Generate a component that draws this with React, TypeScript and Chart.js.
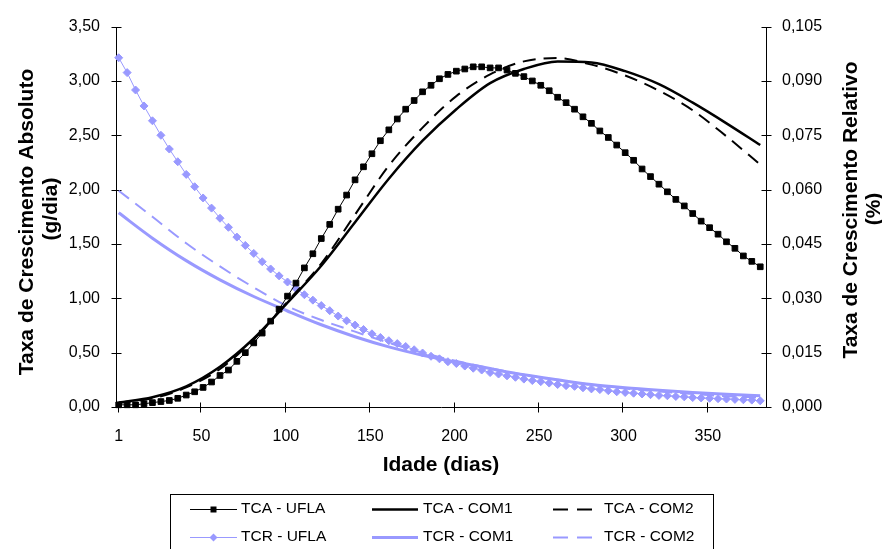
import React, { useEffect, useRef } from 'react';
import { Chart, registerables } from 'chart.js';

Chart.register(...registerables);

const UFLA_DAYS = [1, 6, 11, 16, 21, 26, 31, 36, 41, 46, 51, 56, 61, 66, 71, 76, 81, 86, 91, 96, 101, 106, 111, 116, 121, 126, 131, 136, 141, 146, 151, 156, 161, 166, 171, 176, 181, 186, 191, 196, 201, 206, 211, 216, 221, 226, 231, 236, 241, 246, 251, 256, 261, 266, 271, 276, 281, 286, 291, 296, 301, 306, 311, 316, 321, 326, 331, 336, 341, 346, 351, 356, 361, 366, 371, 376, 381];
const MODEL_DAYS = [1, 21, 41, 61, 81, 101, 121, 141, 161, 181, 201, 221, 241, 261, 281, 301, 321, 341, 361, 381];

const TCA_UFLA = [0.02, 0.02, 0.02, 0.03, 0.04, 0.05, 0.06, 0.08, 0.11, 0.14, 0.18, 0.23, 0.29, 0.34, 0.42, 0.50, 0.59, 0.68, 0.79, 0.90, 1.02, 1.14, 1.28, 1.41, 1.55, 1.68, 1.82, 1.95, 2.09, 2.21, 2.33, 2.45, 2.55, 2.65,
  2.74, 2.82, 2.90, 2.96, 3.02, 3.06, 3.09, 3.11, 3.13, 3.13, 3.12, 3.12, 3.10, 3.07, 3.04, 3.00, 2.96, 2.91, 2.85, 2.80, 2.74, 2.67, 2.61, 2.54, 2.48, 2.41, 2.34, 2.27, 2.19, 2.12, 2.05, 1.98, 1.91, 1.85, 1.78, 1.71, 1.65, 1.59, 1.52, 1.46, 1.39, 1.34, 1.29];
const TCR_UFLA = [0.0964, 0.0923, 0.0875, 0.0831, 0.0790, 0.0750, 0.0712, 0.0677, 0.0642, 0.0608, 0.0577, 0.0549, 0.0521, 0.0496, 0.0469, 0.0446, 0.0424, 0.0401, 0.0381, 0.0362, 0.0345, 0.0327, 0.0310, 0.0295, 0.0280, 0.0266, 0.0251, 0.0238, 0.0226, 0.0214, 0.0202, 0.0192, 0.0183, 0.0175,
  0.0167, 0.0158, 0.0149, 0.0140, 0.0133, 0.0125, 0.0120, 0.0113, 0.0107, 0.0102, 0.0095, 0.0091, 0.0086, 0.0082, 0.0077, 0.0073, 0.0070, 0.0066, 0.0062, 0.0059, 0.0057, 0.0053, 0.0050, 0.0048, 0.0045, 0.0042, 0.0040, 0.0038, 0.0036, 0.0034, 0.0032, 0.0031, 0.0029, 0.0028, 0.0026, 0.0025, 0.0024, 0.0023, 0.0022, 0.0021, 0.0020, 0.0019, 0.0017];
const TCA_COM1 = [0.04, 0.09, 0.19, 0.37, 0.63, 0.96, 1.30, 1.70, 2.10, 2.45, 2.74, 2.98, 3.11, 3.18, 3.17, 3.09, 2.97, 2.80, 2.61, 2.41];
const TCA_COM2 = [0.04, 0.08, 0.18, 0.35, 0.62, 0.97, 1.32, 1.77, 2.22, 2.57, 2.86, 3.06, 3.18, 3.21, 3.15, 3.05, 2.91, 2.73, 2.49, 2.23];
const TCR_COM1 = [0.0536, 0.0466, 0.0404, 0.0351, 0.0305, 0.0265, 0.0227, 0.0194, 0.0166, 0.0143, 0.0124, 0.0106, 0.0089, 0.0075, 0.0062, 0.0053, 0.0046, 0.0040, 0.0035, 0.0031];
const TCR_COM2 = [0.0597, 0.0525, 0.0452, 0.0388, 0.0330, 0.0278, 0.0240, 0.0208, 0.0177, 0.0150, 0.0127, 0.0107, 0.0089, 0.0074, 0.0061, 0.0051, 0.0043, 0.0036, 0.0030, 0.0026];

const X_TICKS = [1, 50, 100, 150, 200, 250, 300, 350];
const LEFT_TICKS = [0, 0.5, 1, 1.5, 2, 2.5, 3, 3.5];
const RIGHT_TICKS = [0, 0.015, 0.03, 0.045, 0.06, 0.075, 0.09, 0.105];

const LEFT_TITLE = ['Taxa de Crescimento Absoluto', '(g/dia)'];
const RIGHT_TITLE = ['Taxa de Crescimento Relativo', '(%)'];
const X_TITLE = 'Idade (dias)';

const BLUE = '#9999FF';
const FONT = "'Liberation Sans', Arial, sans-serif";

const pts = (xs: number[], ys: number[]) => xs.map((x, i) => ({ x, y: ys[i] }));

const decor = {
  id: 'decor',
  beforeDatasetsDraw(chart: any) {
    const ctx = chart.ctx;
    const { left, right, top, bottom } = chart.chartArea;
    const L = Math.round(left) - 0.5;
    const R = Math.round(right) - 0.5;
    const B = Math.round(bottom) + 0.5;
    ctx.save();
    ctx.strokeStyle = '#000';
    ctx.lineWidth = 1;
    ctx.beginPath();
    ctx.moveTo(L, Math.round(top)); ctx.lineTo(L, B);
    ctx.moveTo(R, Math.round(top)); ctx.lineTo(R, B);
    ctx.moveTo(L, B); ctx.lineTo(R, B);
    chart.scales.y.ticks.forEach((t: any) => {
      const y = Math.round(chart.scales.y.getPixelForValue(t.value)) + 0.5;
      ctx.moveTo(L - 5, y); ctx.lineTo(L + 5, y);
    });
    chart.scales.y1.ticks.forEach((t: any) => {
      const y = Math.round(chart.scales.y1.getPixelForValue(t.value)) + 0.5;
      ctx.moveTo(R - 5, y); ctx.lineTo(R + 5, y);
    });
    chart.scales.x.ticks.forEach((t: any) => {
      const x = Math.round(chart.scales.x.getPixelForValue(t.value)) - 0.5;
      ctx.moveTo(x, B - 5); ctx.lineTo(x, B + 5);
    });
    ctx.stroke();
    ctx.restore();
  },
  afterDraw(chart: any) {
    const ctx = chart.ctx;
    ctx.save();
    ctx.fillStyle = '#000';
    ctx.font = `bold 21px ${FONT}`;
    ctx.textAlign = 'center';
    ctx.textBaseline = 'alphabetic';
    const leftPos = [[33, 222], [57, 209]];
    LEFT_TITLE.forEach((s, i) => {
      ctx.save();
      ctx.translate(leftPos[i][0], leftPos[i][1]);
      ctx.rotate(-Math.PI / 2);
      ctx.fillText(s, 0, 0);
      ctx.restore();
    });
    const rightPos = [[857, 210], [880, 209]];
    RIGHT_TITLE.forEach((s, i) => {
      ctx.save();
      ctx.translate(rightPos[i][0], rightPos[i][1]);
      ctx.rotate(-Math.PI / 2);
      ctx.fillText(s, 0, 0);
      ctx.restore();
    });
    ctx.fillText(X_TITLE, 441, 471);

    // legend
    ctx.strokeStyle = '#000';
    ctx.lineWidth = 1;
    ctx.strokeRect(170.5, 494.5, 543, 80);
    const cols = [[190, 237, 241], [372, 418, 423], [553, 593, 604]];
    const rows = [509, 537];
    ctx.font = `15.5px ${FONT}`;
    ctx.textAlign = 'left';
    ctx.textBaseline = 'middle';
    chart.data.datasets.forEach((ds: any, i: number) => {
      const [x0, x1, tx] = cols[i % 3];
      const y = rows[Math.floor(i / 3)];
      ctx.save();
      ctx.strokeStyle = ds.borderColor;
      ctx.lineWidth = ds.borderWidth;
      ctx.setLineDash(ds.borderDash ? [15, 9] : []);
      ctx.beginPath();
      ctx.moveTo(x0, y + 0.5);
      ctx.lineTo(x1, y + 0.5);
      ctx.stroke();
      ctx.setLineDash([]);
      if (ds.pointRadius > 0) {
        const cx = (x0 + x1) / 2;
        ctx.fillStyle = ds.borderColor;
        ctx.beginPath();
        if (ds.pointStyle === 'rect') {
          ctx.rect(cx - 3, y - 2.5, 6, 6);
        } else {
          ctx.moveTo(cx, y - 3.5);
          ctx.lineTo(cx + 4, y + 0.5);
          ctx.lineTo(cx, y + 4.5);
          ctx.lineTo(cx - 4, y + 0.5);
          ctx.closePath();
        }
        ctx.fill();
      }
      ctx.restore();
      ctx.fillStyle = '#000';
      ctx.fillText(ds.label, tx, y);
    });
    ctx.restore();
  },
};

export default function App() {
  const ref = useRef<HTMLCanvasElement>(null);
  useEffect(() => {
    if (!ref.current) return;
    Chart.defaults.font.family = FONT;
    Chart.defaults.color = '#000';
    const chart = new Chart(ref.current, {
      type: 'line',
      data: {
        datasets: [
          { label: 'TCA - UFLA', data: pts(UFLA_DAYS, TCA_UFLA), yAxisID: 'y', borderColor: '#000', backgroundColor: '#000', borderWidth: 1, pointStyle: 'rect', pointRadius: 4, pointBorderWidth: 1, tension: 0, clip: false },
          { label: 'TCA - COM1', data: pts(MODEL_DAYS, TCA_COM1), yAxisID: 'y', borderColor: '#000', backgroundColor: '#000', borderWidth: 2.5, pointRadius: 0, cubicInterpolationMode: 'monotone', clip: false },
          { label: 'TCA - COM2', data: pts(MODEL_DAYS, TCA_COM2), yAxisID: 'y', borderColor: '#000', backgroundColor: '#000', borderWidth: 2, borderDash: [13, 8], pointRadius: 0, cubicInterpolationMode: 'monotone', clip: false },
          { label: 'TCR - UFLA', data: pts(UFLA_DAYS, TCR_UFLA), yAxisID: 'y1', borderColor: BLUE, backgroundColor: BLUE, borderWidth: 1, pointStyle: 'rectRot', pointRadius: 4, pointBorderWidth: 1, tension: 0, clip: false },
          { label: 'TCR - COM1', data: pts(MODEL_DAYS, TCR_COM1), yAxisID: 'y1', borderColor: BLUE, backgroundColor: BLUE, borderWidth: 3, pointRadius: 0, cubicInterpolationMode: 'monotone', clip: false },
          { label: 'TCR - COM2', data: pts(MODEL_DAYS, TCR_COM2), yAxisID: 'y1', borderColor: BLUE, backgroundColor: BLUE, borderWidth: 2, borderDash: [13, 8], pointRadius: 0, cubicInterpolationMode: 'monotone', clip: false },
        ],
      } as any,
      options: {
        responsive: false,
        animation: false,
        events: [],
        layout: { padding: { top: 18, left: 0, right: 0, bottom: 0 } },
        plugins: { legend: { display: false }, tooltip: { enabled: false } },
        scales: {
          x: {
            type: 'linear', min: 0, max: 385,
            grid: { display: false, drawTicks: false }, border: { display: false },
            ticks: { autoSkip: false, maxRotation: 0, padding: 20, font: { size: 16 }, color: '#000', callback: (v: any) => String(v) },
            afterBuildTicks: (s: any) => { s.ticks = X_TICKS.map((v) => ({ value: v })); },
            afterFit: (s: any) => { s.height = 142; },
          },
          y: {
            type: 'linear', position: 'left', min: 0, max: 3.5,
            grid: { display: false, drawTicks: false }, border: { display: false },
            ticks: { padding: 17, font: { size: 16 }, color: '#000', callback: (v: any) => Number(v).toFixed(2).replace('.', ',') },
            afterBuildTicks: (s: any) => { s.ticks = LEFT_TICKS.map((v) => ({ value: v })); },
            afterFit: (s: any) => { s.width = 117; },
          },
          y1: {
            type: 'linear', position: 'right', min: 0, max: 0.105,
            grid: { display: false, drawTicks: false }, border: { display: false },
            ticks: { padding: 15, font: { size: 16 }, color: '#000', callback: (v: any) => Number(v).toFixed(3).replace('.', ',') },
            afterBuildTicks: (s: any) => { s.ticks = RIGHT_TICKS.map((v) => ({ value: v })); },
            afterFit: (s: any) => { s.width = 115; },
          },
        },
      } as any,
      plugins: [decor],
    });
    return () => chart.destroy();
  }, []);
  return (
    <div style={{ position: 'absolute', left: 0, top: 0, width: 882, height: 549, background: '#fff' }}>
      <canvas ref={ref} width={882} height={549} style={{ display: 'block' }} />
    </div>
  );
}
